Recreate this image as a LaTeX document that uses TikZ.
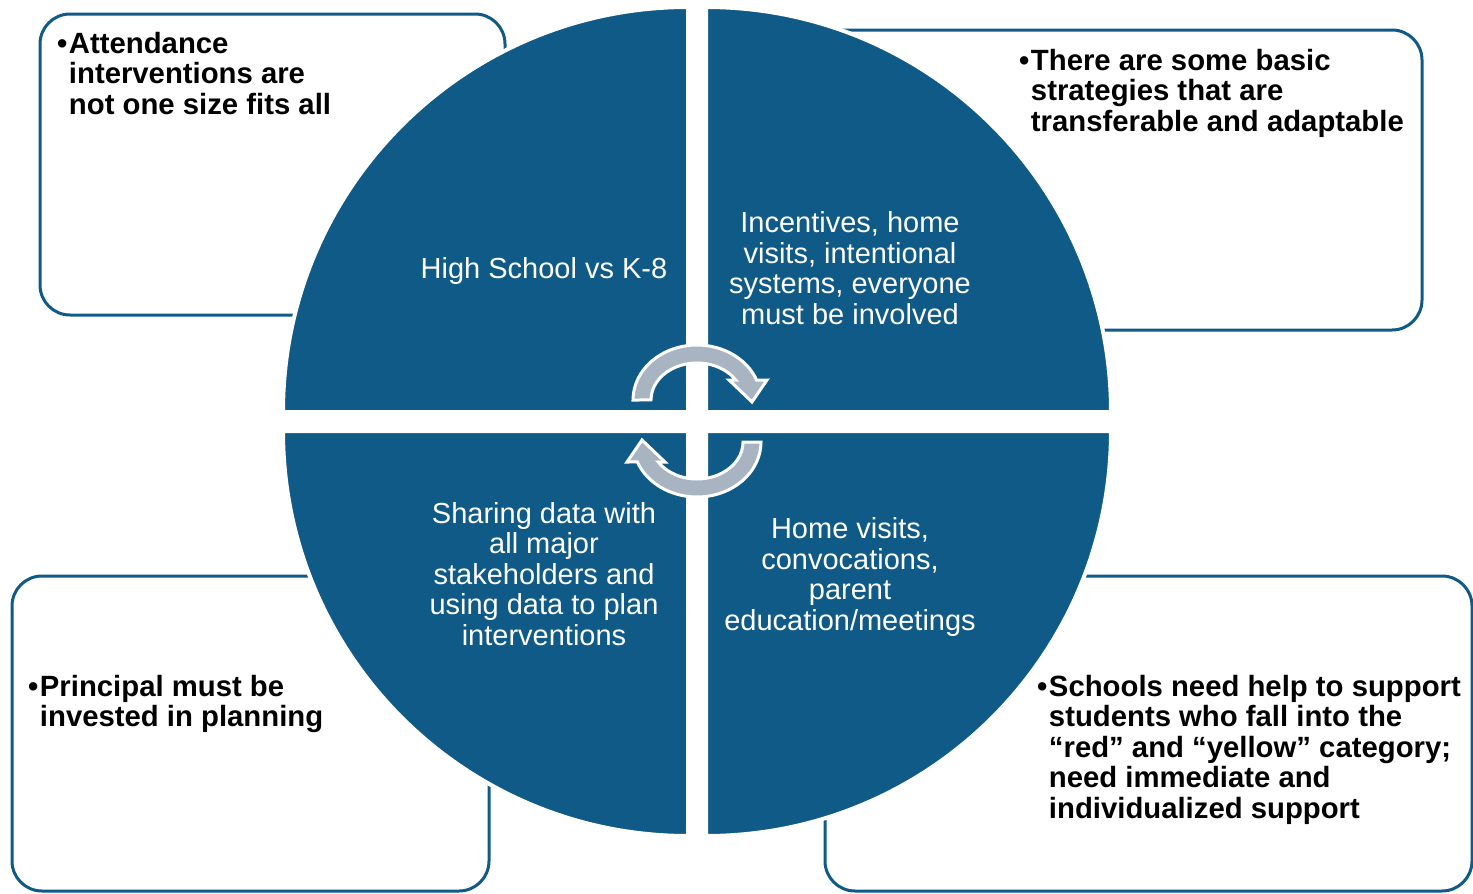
\documentclass[tikz,border=0pt]{standalone}
\usepackage{fontspec}
\setmainfont{Liberation Sans}

\definecolor{cycleblue}{HTML}{0F5A87}
\definecolor{cyclegray}{HTML}{A9B4C2}

\tikzset{
  note box/.style={draw=cycleblue, line width=3pt, rounded corners=30pt},
  quarter/.style={fill=cycleblue, draw=white, line width=4pt},
  quarter text/.style={text=white, align=center, inner sep=0pt,
    font=\fontsize{29}{30.5}\selectfont},
  note text/.style={anchor=base west, inner sep=0pt,
    font=\bfseries\fontsize{29.3}{30.5}\selectfont},
  turn arrow/.style={fill=cyclegray, draw=white, line width=3pt, line join=miter},
}

\newcommand\bulletlines[1]{\textbullet\kern1.5pt\begin{tabular}[t]{@{}l@{}}#1\end{tabular}}

\begin{document}
\begin{tikzpicture}[x=1pt, y=-1pt]
\useasboundingbox (0,0) rectangle (1473,894);

% boxes behind the circle
\draw[note box] (40,14) rectangle (505,315);
\draw[note box] (760,30) rectangle (1422,330);
\draw[note box] (12,576) rectangle (489,891);
\draw[note box] (825,576) rectangle (1472,891);

% four quarters of the circle
\foreach \cx/\cy/\a in {688/412/180, 706/412/270, 706/431/0, 688/431/90}
  \filldraw[quarter] (\cx,\cy) -- ++(\a:405) arc[start angle=\a, delta angle=90, radius=405] -- cycle;

% the two turning arrows
\foreach \spin in {0,180}{
  \begin{scope}[rotate around={\spin:(697,421)}]
    \filldraw[turn arrow] (633,400) arc[start angle=180, end angle=338.7, x radius=64, y radius=55]
      -- (767,380) -- (752,402) -- (729,380) -- (735.7,380)
      arc[start angle=327.3, end angle=180, x radius=46, y radius=37] -- cycle;
  \end{scope}
}

% texts in the quarters
\node[quarter text] (qTL) at (544,271) {High School vs K-8};
\node[quarter text] (qTR) at (850,268) {Incentives, home\\visits, intentional\\systems, everyone\\must be involved};
\node[quarter text] (qBL) at (544,574) {Sharing data with\\all major\\stakeholders and\\using data to plan\\interventions};
\node[quarter text] (qBR) at (850,577) {Home visits,\\convocations,\\parent\\education/meetings};

% texts in the boxes
\node[note text] (nTL) at (57,53) {\bulletlines{Attendance\\interventions are\\not one size fits all}};
\node[note text] (nTR) at (1019,70) {\bulletlines{There are some basic\\strategies that are\\transferable and adaptable}};
\node[note text] (nBL) at (28,696) {\bulletlines{Principal must be\\invested in planning}};
\node[note text] (nBR) at (1037,696) {\bulletlines{Schools need help to support\\students who fall into the\\``red'' and ``yellow'' category;\\need immediate and\\individualized support}};

\end{tikzpicture}
\end{document}
